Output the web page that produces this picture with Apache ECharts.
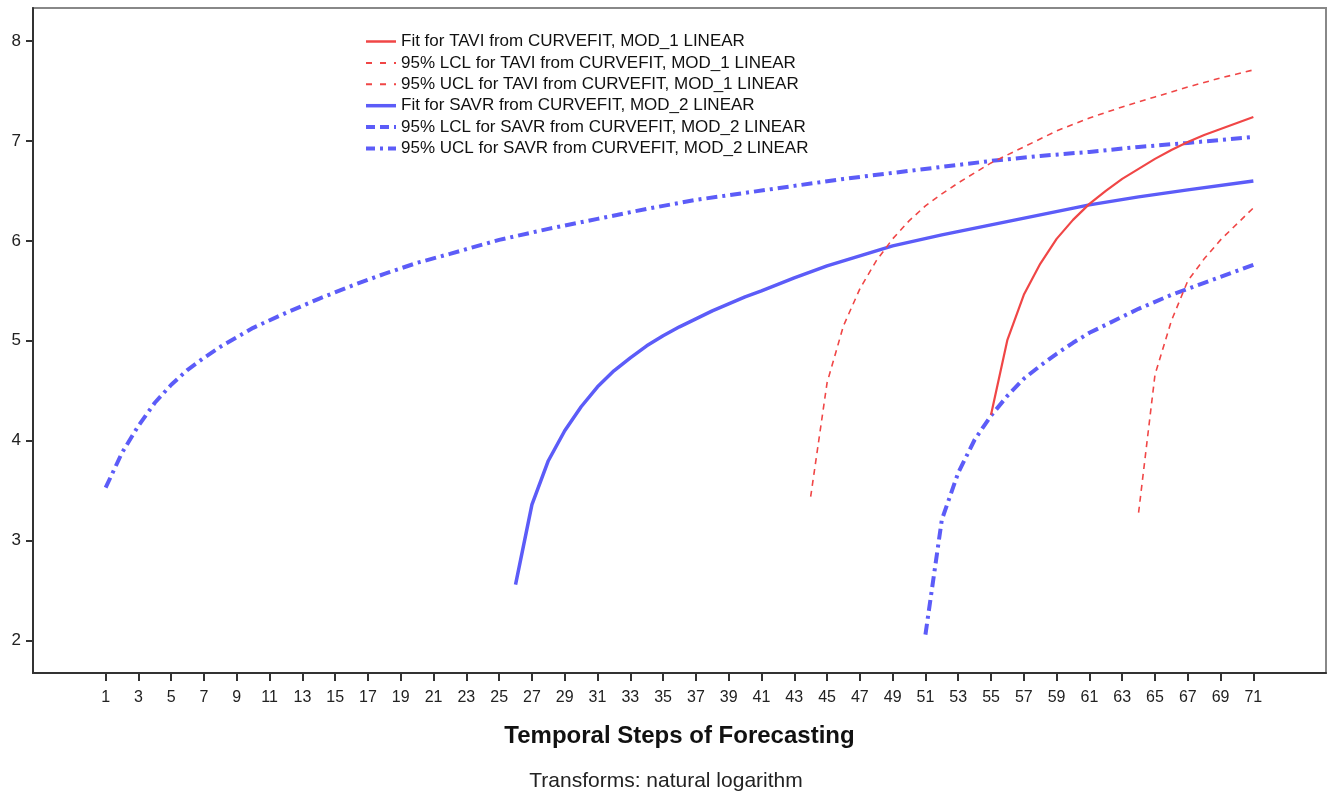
<!DOCTYPE html>
<html>
<head>
<meta charset="utf-8">
<script src="https://cdn.jsdelivr.net/npm/echarts@6/dist/echarts.min.js"></script>
<style>
html,body{margin:0;padding:0;background:#fff;}
#chart{width:1332px;height:795px;}
</style>
</head>
<body>
<div id="chart"></div>
<script>
// ---- data ----
const xTickLabels = [1,3,5,7,9,11,13,15,17,19,21,23,25,27,29,31,33,35,37,39,41,43,45,47,49,51,53,55,57,59,61,63,65,67,69,71];
const yTickLabels = [2,3,4,5,6,7,8];

const taviFitSteps  = [55,56,57,58,59,60,61,62,63,64,65,66,67,68,69,70,71];
const taviFitValues = [4.26,5.01,5.46,5.77,6.02,6.21,6.37,6.50,6.62,6.72,6.82,6.91,6.99,7.06,7.12,7.18,7.24];

const taviLclSteps  = [64,65,66,67,68,69,70,71];
const taviLclValues = [3.28,4.66,5.20,5.60,5.82,6.01,6.17,6.33];

const taviUclSteps  = [44,45,46,47,48,49,50,51,52,53,54,55,57,59,61,63,65,67,69,71];
const taviUclValues = [3.44,4.58,5.15,5.52,5.80,6.02,6.20,6.35,6.47,6.58,6.68,6.78,6.94,7.10,7.23,7.34,7.44,7.54,7.63,7.71];

const savrFitSteps  = [26,27,28,29,30,31,32,33,34,35,36,37,38,39,40,41,43,45,47,49,52,55,58,61,64,67,71];
const savrFitValues = [2.56,3.36,3.80,4.10,4.34,4.54,4.70,4.83,4.95,5.05,5.14,5.22,5.30,5.37,5.44,5.50,5.63,5.75,5.85,5.95,6.06,6.16,6.26,6.36,6.44,6.51,6.60];

const savrLclSteps  = [51,52,53,54,55,56,57,58,59,60,61,62,63,64,65,66,67,68,69,70,71];
const savrLclValues = [2.06,3.21,3.68,4.01,4.25,4.45,4.62,4.75,4.87,4.98,5.08,5.16,5.24,5.32,5.39,5.46,5.52,5.58,5.64,5.70,5.76];

const savrUclSteps  = [1,2,3,4,5,6,7,8,10,12,14,16,18,20,22,25,28,31,34,37,40,43,46,49,52,55,58,61,64,67,71];
const savrUclValues = [3.53,3.88,4.15,4.38,4.56,4.71,4.83,4.94,5.13,5.28,5.42,5.55,5.67,5.78,5.87,6.01,6.12,6.22,6.32,6.41,6.48,6.55,6.62,6.68,6.74,6.80,6.85,6.89,6.94,6.98,7.04];

const seriesNames = [
  'Fit for TAVI from CURVEFIT, MOD_1 LINEAR',
  '95% LCL for TAVI from CURVEFIT, MOD_1 LINEAR',
  '95% UCL for TAVI from CURVEFIT, MOD_1 LINEAR',
  'Fit for SAVR from CURVEFIT, MOD_2 LINEAR',
  '95% LCL for SAVR from CURVEFIT, MOD_2 LINEAR',
  '95% UCL for SAVR from CURVEFIT, MOD_2 LINEAR'
];

// ---- chart ----
const RED = '#f04646';
const BLUE = '#5c5cf8';
const pair = (s, v) => s.map((x, i) => [x, v[i]]);
const FONT = '"Liberation Sans", Arial, sans-serif';

function mk(name, steps, vals, color, width, dash, z) {
  return {
    name, type: 'line', data: pair(steps, vals),
    symbol: 'none', smooth: false, z: z,
    lineStyle: { color, width, type: dash, cap: 'butt' },
    itemStyle: { color },
    emphasis: { disabled: true }
  };
}

const legendStyles = [
  { width: 2.5, type: 'solid' },
  { width: 2, type: [6, 8] },
  { width: 2, type: [6, 8] },
  { width: 3.5, type: 'solid' },
  { width: 4, type: [9, 5] },
  { width: 4, type: [9, 5, 3, 5] }
];

const chart = echarts.init(document.getElementById('chart'), null, { renderer: 'canvas' });
chart.setOption({
  animation: false,
  backgroundColor: '#fff',
  grid: { left: 33, right: 6, top: 8, bottom: 122, show: true, borderColor: '#888', borderWidth: 2, backgroundColor: '#fff' },
  xAxis: {
    type: 'value', min: -3.43, max: 75.43,
    name: 'Temporal Steps of Forecasting', nameLocation: 'middle', nameGap: 51,
    nameTextStyle: { fontFamily: FONT, fontSize: 24, fontWeight: 'bold', color: '#111' },
    axisLine: { show: true, onZero: false, lineStyle: { color: '#333', width: 2 } },
    axisTick: { show: true, length: 8, customValues: xTickLabels, lineStyle: { color: '#333', width: 2 } },
    axisLabel: { customValues: xTickLabels, fontFamily: FONT, fontSize: 16, color: '#222', margin: 17 },
    splitLine: { show: false }
  },
  yAxis: {
    type: 'value', min: 1.676, max: 8.33,
    axisLine: { show: true, onZero: false, lineStyle: { color: '#333', width: 2 } },
    axisTick: { show: true, length: 7, customValues: yTickLabels, lineStyle: { color: '#333', width: 2 } },
    axisLabel: { customValues: yTickLabels, fontFamily: FONT, fontSize: 17, color: '#222', margin: 12 },
    splitLine: { show: false }
  },
  legend: {
    orient: 'vertical', left: 359, top: 28,
    itemWidth: 30, itemHeight: 14, itemGap: 4.4,
    itemStyle: { opacity: 0 },
    textStyle: { fontFamily: FONT, fontSize: 17, lineHeight: 16, color: '#111' },
    data: seriesNames.map((n, i) => ({ name: n, lineStyle: legendStyles[i] }))
  },
  graphic: [{
    type: 'text', left: 'center', top: 771,
    style: { text: 'Transforms: natural logarithm', fontFamily: FONT, fontSize: 21, fill: '#222' }
  }],
  series: [
    mk(seriesNames[3], savrFitSteps, savrFitValues, BLUE, 3.5, 'solid', 3),
    mk(seriesNames[4], savrLclSteps, savrLclValues, BLUE, 4, [11, 5, 3, 5], 3),
    mk(seriesNames[5], savrUclSteps, savrUclValues, BLUE, 4, [11, 5, 3, 5], 3),
    mk(seriesNames[0], taviFitSteps, taviFitValues, RED, 2.2, 'solid', 4),
    mk(seriesNames[1], taviLclSteps, taviLclValues, RED, 1.6, [6, 5], 4),
    mk(seriesNames[2], taviUclSteps, taviUclValues, RED, 1.6, [6, 5], 4)
  ]
});
</script>
</body>
</html>
